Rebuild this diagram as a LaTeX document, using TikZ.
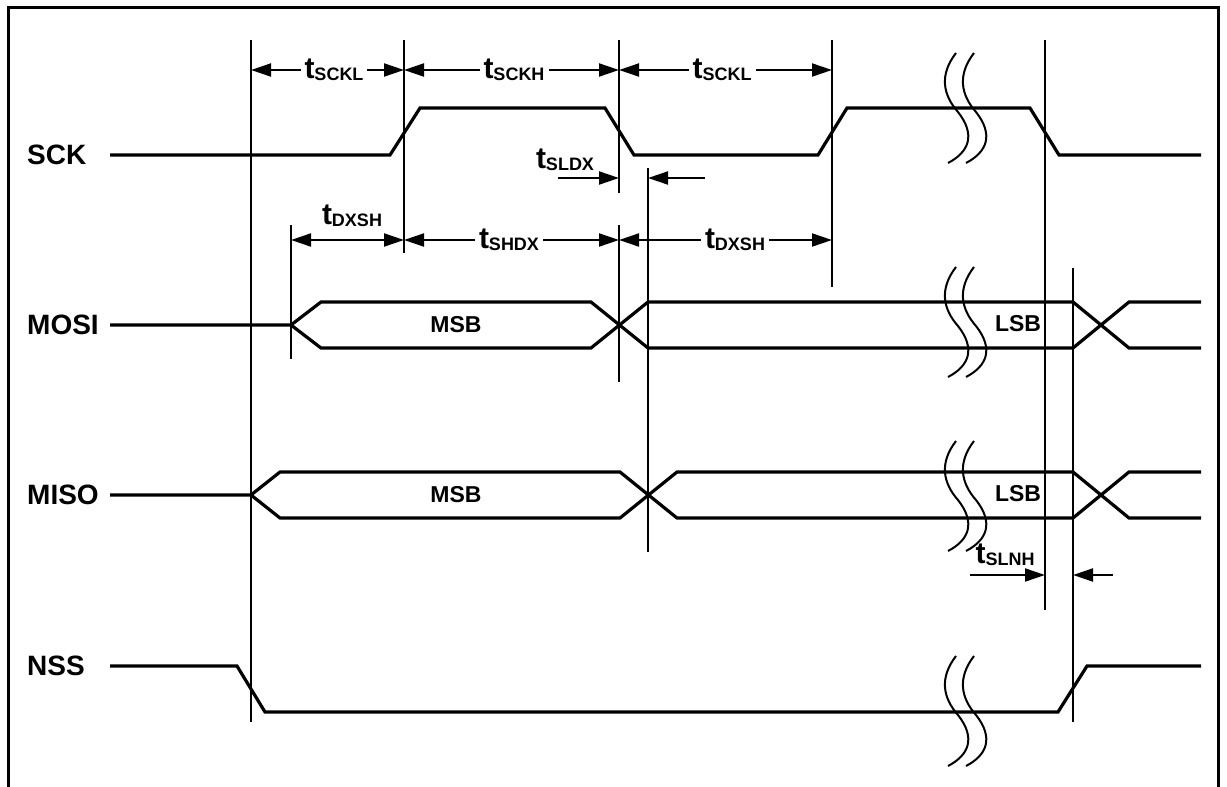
\documentclass[tikz,border=0pt]{standalone}
\usepackage{fontspec}
\setmainfont{Liberation Sans}
\usetikzlibrary{arrows.meta}

\newcommand{\tsub}[1]{{\fontsize{30}{30}\selectfont t}\raisebox{-2pt}{\fontsize{18}{18}\selectfont #1}}

\tikzset{
  sig/.style={line width=3.2pt},
  vline/.style={line width=2.4pt},
  dimarrow/.style={line width=2pt, {Triangle[length=20pt,width=13pt]}-{Triangle[length=20pt,width=13pt]}},
  onearrow/.style={line width=2pt, -{Triangle[length=20pt,width=13pt]}},
  sigName/.style={font=\bfseries\fontsize{28}{30}\selectfont, anchor=west, inner sep=0pt},
  bitName/.style={font=\bfseries\fontsize{23}{25}\selectfont, inner sep=0pt},
  tName/.style={font=\bfseries, fill=white, inner sep=4pt},
  brk/.pic={
    \foreach \dx in {0,18}
      \draw[line width=2pt] (\dx-2,-55) .. controls (\dx-19,-33) and (\dx-15,-13) .. (\dx,4)
        .. controls (\dx+18,27) and (\dx+11,44) .. (\dx-10,55);
  }
}

\begin{document}
\begin{tikzpicture}[x=1pt,y=-1pt]
  \useasboundingbox (0,0) rectangle (1227,787);
  \draw[line width=3pt] (8,787) -- (8,7) -- (1218,7) -- (1218,787);

  % signal names
  \node[sigName] (sck) at (27,155) {SCK};
  \node[sigName] (mosi) at (27,325) {MOSI};
  \node[sigName] (miso) at (27,495) {MISO};
  \node[sigName] (nss) at (27,666) {NSS};

  % time marks
  \foreach \x/\a/\b in {251/40/722, 404/40/253, 619/40/193, 619/225/382,
                        648/168/552, 832/40/287, 1045/40/610, 1073/268/722, 291/225/359}
    \draw[vline] (\x,\a) -- (\x,\b);

  % SCK
  \draw[sig] (110,155) -- (390,155) -- (420,108) -- (605,108) -- (634,155) -- (818,155)
    -- (847,108) -- (1030,108) -- (1059,155) -- (1201,155);

  % MOSI
  \draw[sig] (110,325) -- (291,325) -- (321,302) -- (591,302) -- (648,348) -- (1073,348)
    -- (1129,302) -- (1201,302);
  \draw[sig] (291,325) -- (321,348) -- (591,348) -- (648,302) -- (1073,302)
    -- (1129,348) -- (1201,348);
  \node[bitName] (mosimsb) at (456,325) {MSB};
  \node[bitName] (mosilsb) at (1018,324) {LSB};

  % MISO
  \draw[sig] (110,495) -- (251,495) -- (280,472) -- (620,472) -- (677,518) -- (1073,518)
    -- (1129,472) -- (1201,472);
  \draw[sig] (251,495) -- (280,518) -- (620,518) -- (677,472) -- (1073,472)
    -- (1129,518) -- (1201,518);
  \node[bitName] (misomsb) at (456,495) {MSB};
  \node[bitName] (misolsb) at (1018,494) {LSB};

  % NSS
  \draw[sig] (110,666) -- (237,666) -- (265,712) -- (1058,712) -- (1087,666) -- (1201,666);

  % breaks
  \foreach \y in {108,322,496,711}
    \pic at (958,\y) {brk};

  % clock timing
  \draw[dimarrow] (251,70) -- (404,70);
  \draw[dimarrow] (404,70) -- (619,70);
  \draw[dimarrow] (619,70) -- (832,70);
  \node[tName] (tsckla) at (334,70) {\tsub{SCKL}};
  \node[tName] (tsckh) at (514,70) {\tsub{SCKH}};
  \node[tName] (tscklb) at (722,70) {\tsub{SCKL}};

  % data timing
  \draw[dimarrow] (291,240) -- (404,240);
  \draw[dimarrow] (404,240) -- (619,240);
  \draw[dimarrow] (619,240) -- (832,240);
  \node[tName, fill=none, inner sep=0pt] (tdxsha) at (352,216) {\tsub{DXSH}};
  \node[tName] (tshdx) at (509,240) {\tsub{SHDX}};
  \node[tName] (tdxshb) at (735,240) {\tsub{DXSH}};

  % tSLDX
  \draw[onearrow] (558,178) -- (619,178);
  \draw[onearrow] (705,178) -- (648,178);
  \node[tName, fill=none, inner sep=0pt] (tsldx) at (565,160) {\tsub{SLDX}};

  % tSLNH
  \draw[onearrow] (970,575) -- (1045,575);
  \draw[onearrow] (1113,575) -- (1073,575);
  \node[tName, fill=none, inner sep=0pt] (tslnh) at (1005,555) {\tsub{SLNH}};
\end{tikzpicture}
\end{document}
